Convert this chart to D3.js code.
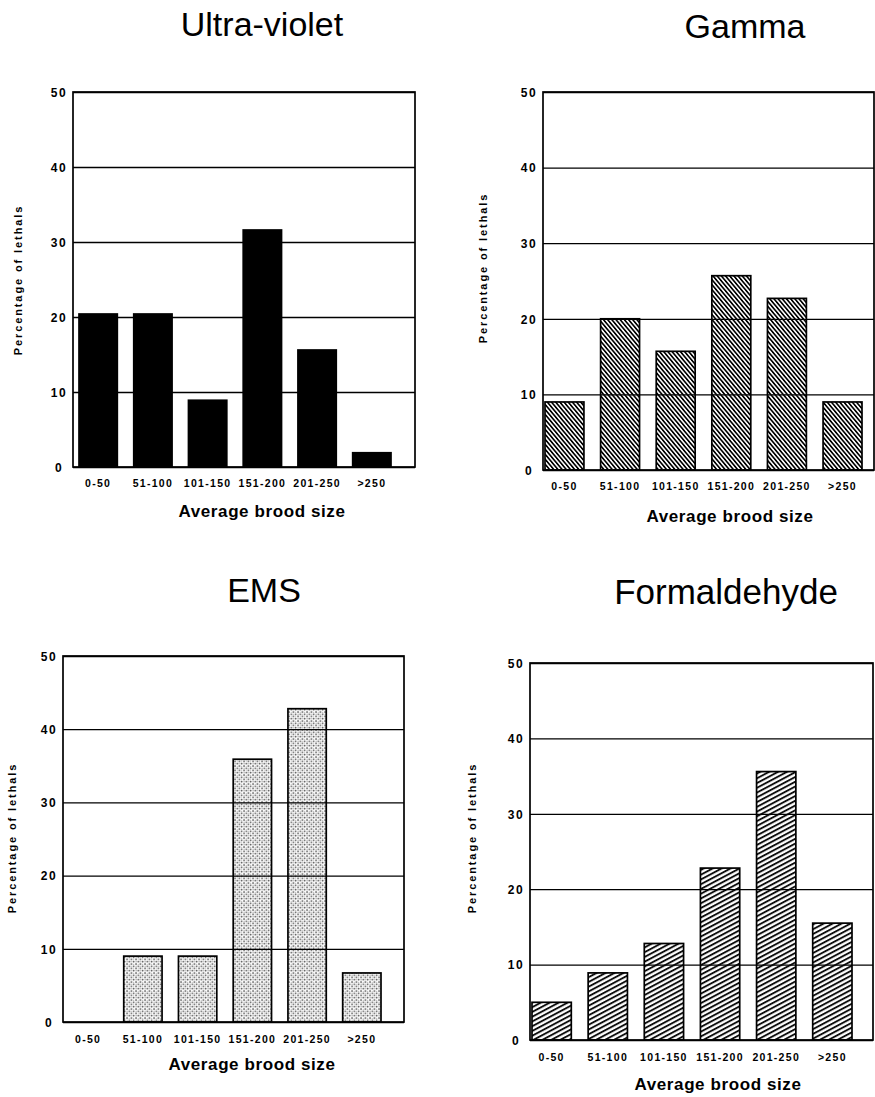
<!DOCTYPE html>
<html>
<head>
<meta charset="utf-8">
<script src="https://cdn.jsdelivr.net/npm/d3@7"></script>
<style>
  html, body { margin: 0; padding: 0; background: #fff; }
  svg { display: block; font-family: "Liberation Sans", Arial, Helvetica, sans-serif; }
</style>
</head>
<body>
<script>
// ---------------- DATA ----------------
const categories = ["0-50", "51-100", "101-150", "151-200", "201-250", ">250"];
const uvValues = [20.4, 20.4, 8.9, 31.6, 15.6, 1.9];
const gammaValues = [9, 20, 15.7, 25.7, 22.7, 9];
const emsValues = [0, 9, 9, 35.9, 42.8, 6.7];
const formaldehydeValues = [5, 8.9, 12.8, 22.8, 35.6, 15.5];
const yTicks = [0, 10, 20, 30, 40, 50];
const panelTitles = ["Ultra-violet", "Gamma", "EMS", "Formaldehyde"];
const yAxisTitle = "Percentage of lethals";
const xAxisTitle = "Average brood size";

// ---------------- LAYOUT ----------------
const W = 875, H = 1097;
const svg = d3.select("body").append("svg").attr("width", W).attr("height", H);
const defs = svg.append("defs");

// Gamma: dense back-diagonal hatch
const pg = defs.append("pattern").attr("id", "hatchBack").attr("patternUnits", "userSpaceOnUse")
  .attr("width", 3.2).attr("height", 3.2).attr("patternTransform", "rotate(-40)");
pg.append("rect").attr("width", 3.2).attr("height", 3.2).attr("fill", "#fff");
pg.append("line").attr("x1", 0.8).attr("y1", -1).attr("x2", 0.8).attr("y2", 5)
  .attr("stroke", "#000").attr("stroke-width", 1.7);

// Formaldehyde: shallow forward-diagonal hatch
const pf = defs.append("pattern").attr("id", "hatchFwd").attr("patternUnits", "userSpaceOnUse")
  .attr("width", 4.2).attr("height", 4.2).attr("patternTransform", "rotate(-28)");
pf.append("rect").attr("width", 4.2).attr("height", 4.2).attr("fill", "#fff");
pf.append("line").attr("x1", -1).attr("y1", 1).attr("x2", 6).attr("y2", 1)
  .attr("stroke", "#000").attr("stroke-width", 1.8);

// EMS: stipple
const ps = defs.append("pattern").attr("id", "stipple").attr("patternUnits", "userSpaceOnUse")
  .attr("width", 4.5).attr("height", 4.5);
ps.append("rect").attr("width", 4.5).attr("height", 4.5).attr("fill", "#fff");
[[1, 1, 0.8], [3.25, 3.25, 0.8], [1, 3.4, 0.5], [3.4, 1.1, 0.4]].forEach(([cx, cy, r]) => {
  ps.append("circle").attr("cx", cx).attr("cy", cy).attr("r", r).attr("fill", "#333");
});

const panels = [
  { title: panelTitles[0], values: uvValues, fill: "#000",
    left: 73, right: 415, top: 92, bottom: 467, barStart: 79, barEnd: 391,
    titleX: 262, titleY: 36, titleSize: 34, tickY: 487, xTitleX: 262, xTitleY: 517,
    yTitleX: 18, yTitleY: 280 },
  { title: panelTitles[1], values: gammaValues, fill: "url(#hatchBack)",
    left: 543, right: 874, top: 92, bottom: 470, barStart: 545, barEnd: 862,
    titleX: 745, titleY: 38, titleSize: 34, tickY: 490, xTitleX: 730, xTitleY: 522,
    yTitleX: 483, yTitleY: 268 },
  { title: panelTitles[2], values: emsValues, fill: "url(#stipple)",
    left: 63, right: 404, top: 656, bottom: 1022, barStart: 69, barEnd: 381,
    titleX: 264, titleY: 602, titleSize: 34, tickY: 1043, xTitleX: 252, xTitleY: 1070,
    yTitleX: 12, yTitleY: 838 },
  { title: panelTitles[3], values: formaldehydeValues, fill: "url(#hatchFwd)",
    left: 530, right: 873, top: 663, bottom: 1040, barStart: 532, barEnd: 852,
    titleX: 726, titleY: 604, titleSize: 35, tickY: 1061, xTitleX: 718, xTitleY: 1090,
    yTitleX: 472, yTitleY: 838 }
];

function drawPanel(p) {
  const x = d3.scaleBand().domain(categories).range([p.barStart, p.barEnd])
    .paddingInner(0.3).paddingOuter(0);
  const y = d3.scaleLinear().domain([0, 50]).range([p.bottom, p.top]);
  const g = svg.append("g");

  // bars
  const data = p.values.map((v, i) => ({ c: categories[i], v })).filter(d => d.v > 0);
  g.selectAll("rect.bar").data(data).join("rect").attr("class", "bar")
    .attr("x", d => x(d.c)).attr("width", x.bandwidth())
    .attr("y", d => y(d.v)).attr("height", d => y(0) - y(d.v))
    .attr("fill", p.fill).attr("stroke", "#000").attr("stroke-width", 1.7);

  // gridlines (drawn over the bars, as in the print)
  const grid = g.append("g").attr("transform", `translate(${p.left},0)`)
    .call(d3.axisLeft(y).tickValues(yTicks).tickSize(-(p.right - p.left)).tickFormat(""));
  grid.select(".domain").remove();
  grid.selectAll(".tick line").attr("stroke", "#000").attr("stroke-width", 1.3);

  // frame
  g.append("rect").attr("x", p.left).attr("y", p.top)
    .attr("width", p.right - p.left).attr("height", p.bottom - p.top)
    .attr("fill", "none").attr("stroke", "#000").attr("stroke-width", 1.7);

  // y tick labels
  const ya = g.append("g").attr("transform", `translate(${p.left - 14},0)`)
    .call(d3.axisLeft(y).tickValues(yTicks).tickSize(0).tickPadding(0));
  ya.select(".domain").remove();
  ya.selectAll("text").attr("text-anchor", "middle").attr("dy", "0.36em")
    .attr("font-size", 12).attr("font-weight", "bold").attr("letter-spacing", 1.5)
    .attr("fill", "#000").attr("font-family", null);

  // x tick labels
  const xa = g.append("g").attr("transform", `translate(0,${p.tickY})`)
    .call(d3.axisBottom(x).tickSize(0).tickPadding(0));
  xa.select(".domain").remove();
  xa.selectAll("text").attr("y", 0).attr("dy", 0)
    .attr("font-size", 10.5).attr("font-weight", "bold").attr("letter-spacing", 1.3)
    .attr("fill", "#000").attr("font-family", null);

  // title
  g.append("text").attr("x", p.titleX).attr("y", p.titleY).attr("text-anchor", "middle")
    .attr("font-size", p.titleSize).attr("fill", "#000").text(p.title);

  // x axis title
  g.append("text").attr("x", p.xTitleX).attr("y", p.xTitleY).attr("text-anchor", "middle")
    .attr("font-size", 17).attr("font-weight", "bold").attr("letter-spacing", 0.6)
    .attr("fill", "#000").text(xAxisTitle);

  // y axis title
  g.append("text").attr("transform", `translate(${p.yTitleX + 4},${p.yTitleY}) rotate(-90)`)
    .attr("text-anchor", "middle").attr("font-size", 11).attr("font-weight", "bold")
    .attr("letter-spacing", 1.9).attr("fill", "#000").text(yAxisTitle);
}

panels.forEach(drawPanel);
</script>
</body>
</html>
